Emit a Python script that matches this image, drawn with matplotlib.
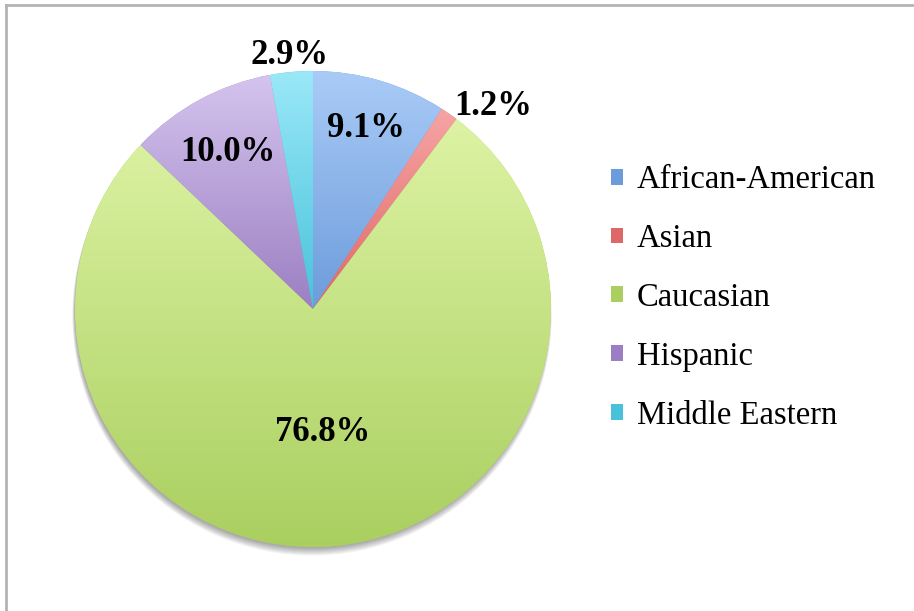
import numpy as np
import matplotlib
matplotlib.use("Agg")
import matplotlib.pyplot as plt
from matplotlib.colors import LinearSegmentedColormap
from matplotlib.patches import Circle, Rectangle
from matplotlib.lines import Line2D

categories = ["African-American", "Asian", "Caucasian", "Hispanic", "Middle Eastern"]
values = [9.1, 1.2, 76.8, 10.0, 2.9]
pct_labels = ["9.1%", "1.2%", "76.8%", "10.0%", "2.9%"]

# gradient colours (top, bottom) per wedge
top_colors = ["#aacbf7", "#f7a4a4", "#ddf3a4", "#d4c4ee", "#9ae8f8"]
bot_colors = ["#6c9cdb", "#de6868", "#aacf60", "#9c7fc2", "#48c2da"]
label_dist = [0.79, 1.04, 0.52, 0.75, 1.07]

W, H = 914, 611
fig = plt.figure(figsize=(W / 100, H / 100), dpi=100)
ax = fig.add_axes([0, 0, 1, 1])
ax.set_xlim(0, W)
ax.set_ylim(0, H)
ax.set_aspect("equal")
ax.axis("off")

cx, cy, R = 313, 302, 238

# soft shadow (offset downward)
for i in range(12):
    ax.add_patch(Circle((cx - 1, cy - 2 - i * 0.45), R - 1 + i * 0.25,
                        facecolor="#000000", alpha=0.03, lw=0, zorder=0))

wedges, _ = ax.pie(values, startangle=90, counterclock=False, center=(cx, cy),
                   radius=R, wedgeprops=dict(linewidth=0), frame=True)
ax.set_xlim(0, W)
ax.set_ylim(0, H)
ax.axis("off")

grad = np.linspace(0, 1, 256).reshape(-1, 1)
for w, tc, bc in zip(wedges, top_colors, bot_colors):
    w.set_facecolor(bc)
    w.set_zorder(1)
    ext = w.get_path().get_extents(w.get_patch_transform())
    cmap = LinearSegmentedColormap.from_list("g", [bc, tc])
    im = ax.imshow(grad, cmap=cmap, origin="lower", aspect="auto",
                   extent=[ext.x0, ext.x1, ext.y0, ext.y1], zorder=2,
                   interpolation="bilinear")
    im.set_clip_path(w)

ax.set_xlim(0, W)
ax.set_ylim(0, H)

for w, lab, d in zip(wedges, pct_labels, label_dist):
    ang = np.deg2rad((w.theta1 + w.theta2) / 2)
    x = cx + d * R * np.cos(ang)
    y = cy + d * R * np.sin(ang)
    ha = "center"
    if d > 1:
        if np.cos(ang) > 0.3:
            ha = "left"
        elif np.cos(ang) < -0.3:
            ha = "right"
    ax.text(x, y, lab, ha=ha, va="center", fontsize=25,
            fontweight="bold", family="Liberation Serif", color="black", zorder=5)

# legend
handles = []
for tc, bc in zip(top_colors, bot_colors):
    handles.append(Rectangle((0, 0), 1, 1, facecolor=bc, edgecolor="none"))
leg = ax.legend(handles, categories, loc="upper left", bbox_to_anchor=(0.651, 0.757),
                frameon=False, prop={"family": "Liberation Serif", "size": 23.5},
                handlelength=0.37, handleheight=0.37, handletextpad=0.42,
                labelspacing=0.87, borderpad=0)

# border
fig.add_artist(Line2D([6 / W, 1], [1 - 5 / H, 1 - 5 / H], color="#b4b4b4", lw=2,
                      transform=fig.transFigure))
fig.add_artist(Line2D([6 / W, 6 / W], [0, 1 - 5 / H], color="#b4b4b4", lw=2,
                      transform=fig.transFigure))

fig.savefig("out.png", dpi=100, facecolor="white")
